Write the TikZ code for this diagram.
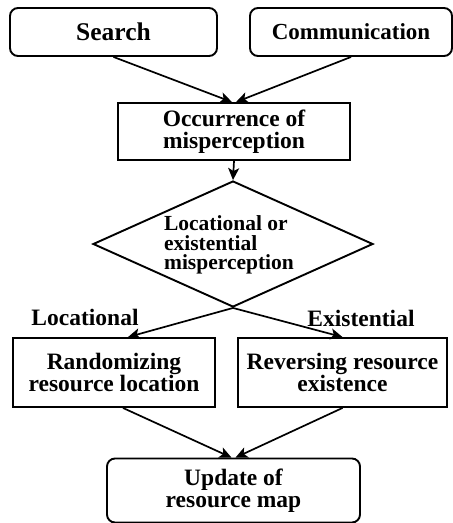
\documentclass[tikz,border=0pt]{standalone}
\usepackage{fontspec}
\setmainfont{Liberation Serif}
\usetikzlibrary{shapes.geometric,arrows.meta}

\begin{document}
\begin{tikzpicture}[x=1pt, y=-1pt,
    rbox/.style={draw, rounded corners=8pt, line width=1.9pt, align=center,
      font=\bfseries\fontsize{23.5}{22}\selectfont, inner sep=2pt},
    sbox/.style={draw, line width=1.9pt, align=center,
      font=\bfseries\fontsize{23.5}{22}\selectfont, inner sep=2pt},
    decide/.style={draw, diamond, aspect=2.2, line width=1.9pt, inner sep=0pt,
      minimum width=280pt, minimum height=126pt},
    flow/.style={-{Stealth[length=12pt, width=11pt, inset=3pt]}, line width=1.7pt},
    lbl/.style={font=\bfseries\fontsize{23.5}{22}\selectfont, inner sep=0pt},
  ]
  \useasboundingbox (0,0) rectangle (453,523);

  \node[rbox, minimum width=207pt, minimum height=48pt,
    font=\bfseries\fontsize{25.5}{25}\selectfont] (search) at (113.5,32) {Search};
  \node[rbox, minimum width=202pt, minimum height=48pt,
    font=\bfseries\fontsize{23}{23}\selectfont] (comm) at (351,32) {Communication};
  \node[sbox, minimum width=232pt, minimum height=57pt] (occ) at (234,131.5)
    {Occurrence of\\misperception};

  \node[decide] (dia) at (233,244) {};
  \node[align=left, inner sep=0pt, font=\bfseries\fontsize{21.5}{19.5}\selectfont]
    (diatxt) at (229,245) {Locational or\\existential\\misperception};

  \node[sbox, minimum width=202pt, minimum height=69pt] (rand) at (114,372.5)
    {Randomizing\\resource location};
  \node[sbox, minimum width=209pt, minimum height=69pt] (rev) at (342.5,372.5)
    {Reversing resource\\existence};
  \node[rbox, minimum width=253pt, minimum height=64pt] (upd) at (233.5,490.5)
    {Update of\\resource map};

  \node[lbl] (loc) at (85,317) {Locational};
  \node[lbl] (exi) at (361,318) {Existential};

  \draw[flow] (search.south) -- ([xshift=-2pt]occ.north);
  \draw[flow] (comm.south) -- ([xshift=2pt]occ.north);
  \draw[flow] (occ.south) -- (dia.north);
  \draw[flow] (dia.south) -- ([xshift=14pt]rand.north);
  \draw[flow] (dia.south) -- (rev.north);
  \draw[flow] ([xshift=9pt]rand.south) -- ([xshift=-2pt]upd.north);
  \draw[flow] (rev.south) -- ([xshift=2pt]upd.north);
\end{tikzpicture}
\end{document}
